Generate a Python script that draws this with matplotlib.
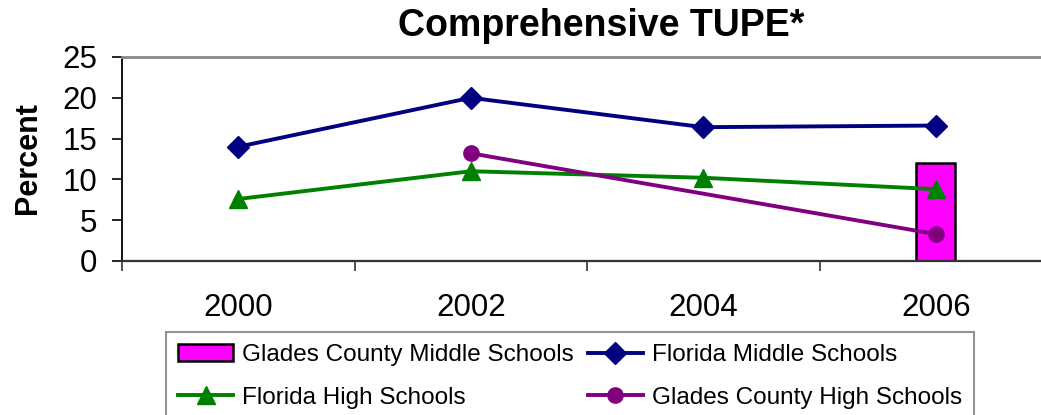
import numpy as np
import matplotlib
matplotlib.use("Agg")
import matplotlib.pyplot as plt

years = ['2000', '2002', '2004', '2006']
glades_middle = [np.nan, np.nan, np.nan, 12.0]
fl_middle = [14.0, 20.0, 16.4, 16.6]
fl_high = [7.6, 11.0, 10.2, 8.8]
glades_high = [np.nan, 13.2, np.nan, 3.3]
yticks = [0, 5, 10, 15, 20, 25]

plt.rcParams['font.family'] = ['Liberation Sans', 'DejaVu Sans']

fig = plt.figure(figsize=(10.41, 4.15), dpi=100)
ax = fig.add_axes([122/1041, 154/415, 930/1041, 204/415])

x = np.arange(len(years))

def series(vals):
    v = np.array(vals, dtype=float)
    m = ~np.isnan(v)
    return x[m], v[m]

bx, bv = series(glades_middle)
bar = ax.bar(bx, bv, width=0.168, color='#FF00FF', edgecolor='black', linewidth=1.8,
             label='Glades County Middle Schools', zorder=2)
mx, mv = series(fl_middle)
l1, = ax.plot(mx, mv, color='#000080', lw=2.8, marker='D', ms=11, label='Florida Middle Schools', zorder=3)
hx, hv = series(fl_high)
l2, = ax.plot(hx, hv, color='#008000', lw=2.8, marker='^', ms=13, label='Florida High Schools', zorder=3)
gx, gv = series(glades_high)
l3, = ax.plot(gx, gv, color='#800080', lw=2.8, marker='o', ms=11, label='Glades County High Schools', zorder=4)

ax.set_xlim(-0.5, len(years) - 0.5)
ax.set_ylim(0, 25)
ax.set_yticks(yticks)
ax.set_yticklabels([str(t) for t in yticks], fontsize=22.5)
ax.set_xticks(x)
ax.set_xticklabels(years, fontsize=22.5)
ax.set_xticks(np.arange(-0.5, len(years)), minor=True)
ax.tick_params(axis='x', which='major', length=0, pad=23)
ax.tick_params(axis='x', which='minor', length=7, width=1.2, direction='out', color='#333333')
ax.tick_params(axis='y', length=7, width=1.2, direction='out', pad=11)

ax.spines['top'].set_color('#888888')
ax.spines['top'].set_linewidth(2)
ax.spines['right'].set_visible(False)
ax.spines['bottom'].set_color('#333333')
ax.spines['bottom'].set_linewidth(1.6)
ax.spines['left'].set_linewidth(1.3)

fig.text(28/1041, 1 - 158/415, 'Percent', rotation=90, fontsize=22, fontweight='bold',
         ha='center', va='center')
fig.text(601/1041, 1 - 26/415, 'Comprehensive TUPE*', fontsize=27, fontweight='bold',
         ha='center', va='center')

leg = fig.legend([bar, l2, l1, l3],
                 ['Glades County Middle Schools', 'Florida High Schools',
                  'Florida Middle Schools', 'Glades County High Schools'],
                 ncol=2, loc='upper left', bbox_to_anchor=(166/1041, 1 - 332/415),
                 fontsize=17.5, frameon=True, fancybox=False, edgecolor='#777777',
                 handlelength=2.26, columnspacing=0.58, labelspacing=0.85,
                 borderaxespad=0, handletextpad=0.37, borderpad=0.5)
leg.get_frame().set_linewidth(1.5)

fig.savefig('out.png', dpi=100)
